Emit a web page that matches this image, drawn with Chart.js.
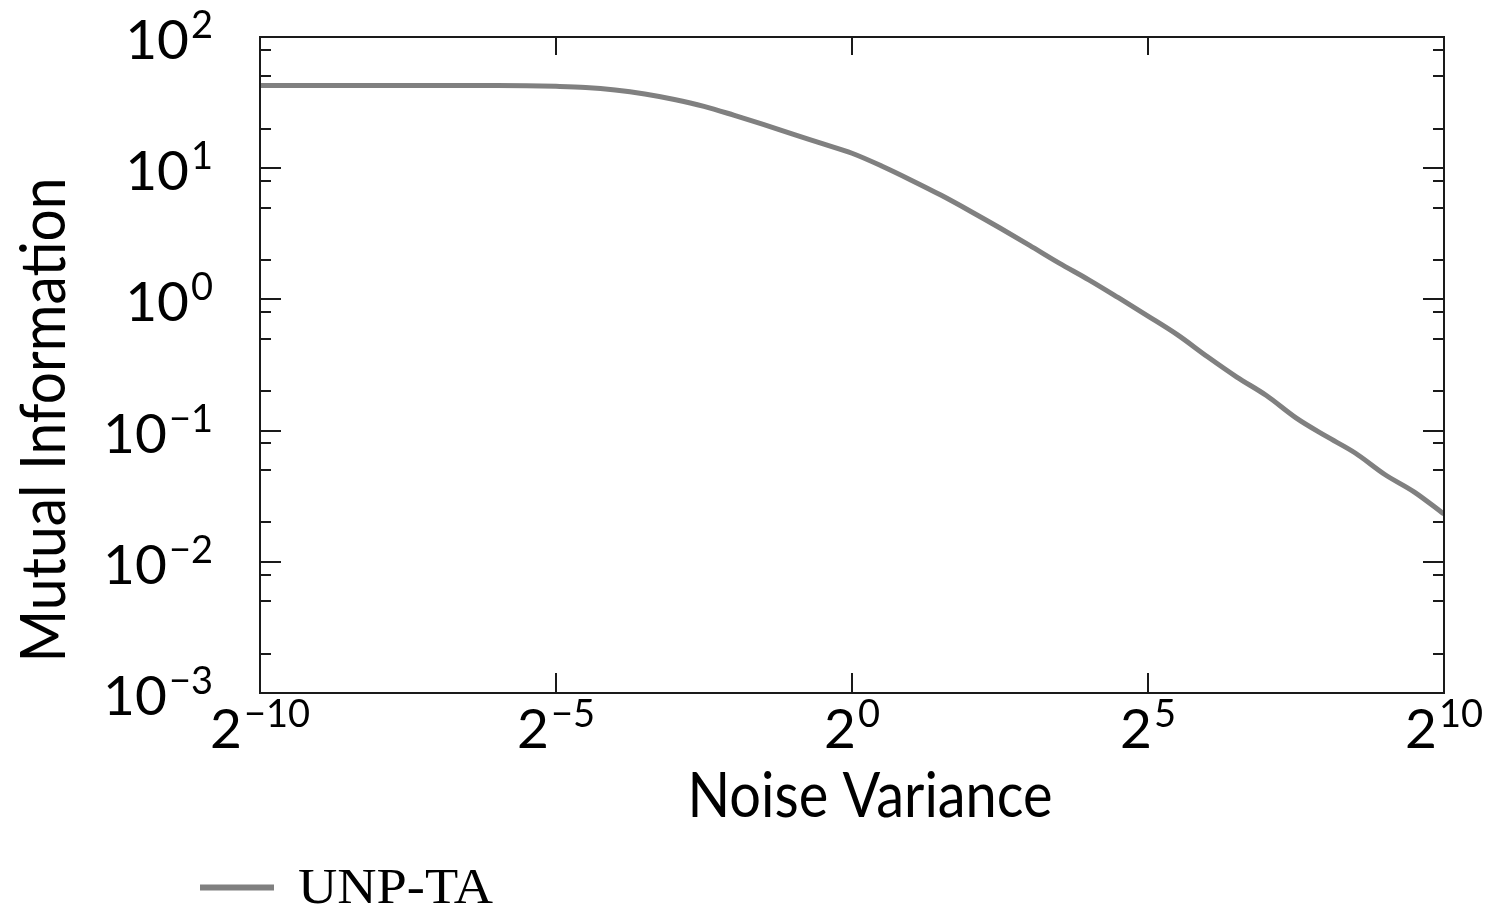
<!DOCTYPE html>
<html>
<head>
<meta charset="utf-8">
<script src="https://cdn.jsdelivr.net/npm/chart.js@4/dist/chart.umd.min.js"></script>
<style>
  html, body { margin: 0; padding: 0; background: #fff; }
</style>
</head>
<body>
<canvas id="miChart" width="1488" height="908"></canvas>
<script>
// data (x = 2^exp)
const varianceExp = [-10, -9.5, -9, -8.5, -8, -7.5, -7, -6.5, -6, -5.5, -5, -4.5, -4, -3.5, -3, -2.5, -2, -1.5, -1, -0.5,
  0, 0.5, 1, 1.5, 2, 2.5, 3, 3.5, 4, 4.5, 5, 5.5, 6, 6.5, 7, 7.5, 8, 8.5, 9, 9.5, 10];
const mutualInfo = [42.6, 42.6, 42.6, 42.6, 42.6, 42.6, 42.6, 42.6, 42.6, 42.5, 42.1, 41.3, 39.5, 36.8, 33.4, 29.6, 25.4, 21.6, 18.2, 15.4,
  13.0, 10.4, 8.11, 6.24, 4.70, 3.50, 2.58, 1.89, 1.41, 1.03, 0.747, 0.537, 0.367, 0.256, 0.185, 0.125, 0.091, 0.0675, 0.0463, 0.0340, 0.0231];
const seriesLabel = "UNP-TA";
const xTickExp = [-10, -5, 0, 5, 10];
const yTickExp = [-3, -2, -1, 0, 1, 2];
const yMinorMult = [2, 5, 8];
const xTitle = "Noise Variance";
const yTitle = "Mutual Information";

const lineColor = "#808080";
const inkColor = "#1a1a1a";
const sansFont = "Lato";

function supText(e) {
  return e < 0 ? "\u2212" + Math.abs(e) : String(e);
}

// base with superscript exponent, anchored right or centred
function drawPower(ctx, base, exp, x, baseline, align) {
  ctx.font = "55px " + sansFont;
  const wb = ctx.measureText(base).width;
  ctx.font = "38px " + sansFont;
  const es = supText(exp);
  const we = ctx.measureText(es).width;
  const gap = 2;
  const total = wb + gap + we;
  const left = align === "right" ? x - total : x - total / 2;
  ctx.textAlign = "left";
  ctx.font = "55px " + sansFont;
  ctx.fillText(base, left, baseline);
  ctx.font = "38px " + sansFont;
  ctx.fillText(es, left + wb + gap, baseline - 21);
}

// text squeezed/stretched to a given width
function drawFitted(ctx, text, font, width) {
  ctx.font = font;
  const w = ctx.measureText(text).width;
  ctx.scale(width / w, 1);
  ctx.textAlign = "left";
  ctx.fillText(text, -w / 2, 0);
}

const frameTicks = {
  id: "frameTicks",
  afterDatasetsDraw(chart) {
    const { ctx, chartArea: a, scales: { x, y } } = chart;
    ctx.save();
    ctx.strokeStyle = inkColor;
    ctx.lineWidth = 2;
    ctx.strokeRect(a.left, a.top, a.right - a.left, a.bottom - a.top);
    ctx.beginPath();
    y.ticks.forEach(t => {
      const py = Math.round(y.getPixelForValue(t.value));
      const len = t.major ? 21 : 11;
      ctx.moveTo(a.left, py); ctx.lineTo(a.left + len, py);
      ctx.moveTo(a.right, py); ctx.lineTo(a.right - len, py);
    });
    x.ticks.forEach(t => {
      const px = Math.round(x.getPixelForValue(t.value));
      ctx.moveTo(px, a.bottom); ctx.lineTo(px, a.bottom - 20);
      ctx.moveTo(px, a.top); ctx.lineTo(px, a.top + 18);
    });
    ctx.stroke();

    // tick labels
    ctx.fillStyle = "#000";
    ctx.textBaseline = "alphabetic";
    y.ticks.filter(t => t.major).forEach(t => {
      const py = y.getPixelForValue(t.value);
      drawPower(ctx, "10", Math.round(Math.log10(t.value)), 213, py + 22, "right");
    });
    x.ticks.forEach(t => {
      const px = x.getPixelForValue(t.value);
      drawPower(ctx, "2", Math.round(Math.log2(t.value)), px, a.bottom + 55, "center");
    });

    // axis titles
    ctx.save();
    ctx.translate(870, 817);
    drawFitted(ctx, xTitle, "61px " + sansFont, 365);
    ctx.restore();
    ctx.save();
    ctx.translate(65, 420);
    ctx.rotate(-Math.PI / 2);
    drawFitted(ctx, yTitle, "61px " + sansFont, 485);
    ctx.restore();

    // legend
    const ds = chart.data.datasets[0];
    ctx.strokeStyle = ds.borderColor;
    ctx.lineWidth = 6;
    ctx.beginPath();
    ctx.moveTo(200, 887.5); ctx.lineTo(274, 887.5);
    ctx.stroke();
    ctx.save();
    ctx.translate(298 + 195 / 2, 903);
    drawFitted(ctx, ds.label, "51px 'Liberation Serif'", 195);
    ctx.restore();
    ctx.restore();
  }
};

new Chart(document.getElementById("miChart"), {
  type: "line",
  data: {
    datasets: [{
      label: seriesLabel,
      data: varianceExp.map((e, i) => ({ x: Math.pow(2, e), y: mutualInfo[i] })),
      borderColor: lineColor,
      backgroundColor: lineColor,
      borderWidth: 5,
      pointRadius: 0,
      cubicInterpolationMode: "monotone",
      fill: false
    }]
  },
  options: {
    responsive: false,
    animation: false,
    devicePixelRatio: 1,
    layout: { padding: { top: 37, right: 44, left: 0, bottom: 0 } },
    plugins: { legend: { display: false }, tooltip: { enabled: false } },
    scales: {
      x: {
        type: "logarithmic",
        min: Math.pow(2, -10),
        max: Math.pow(2, 10),
        ticks: { display: false },
        grid: { display: false },
        border: { display: false },
        afterBuildTicks: s => { s.ticks = xTickExp.map(e => ({ value: Math.pow(2, e), major: true })); },
        afterFit: s => { s.height = 215; }
      },
      y: {
        type: "logarithmic",
        min: 1e-3,
        max: 1e2,
        ticks: { display: false },
        grid: { display: false },
        border: { display: false },
        afterBuildTicks: s => {
          const t = [];
          yTickExp.forEach(k => {
            t.push({ value: Math.pow(10, k), major: true });
            if (k < 2) yMinorMult.forEach(m => t.push({ value: m * Math.pow(10, k), major: false }));
          });
          s.ticks = t;
        },
        afterFit: s => { s.width = 260; }
      }
    }
  },
  plugins: [frameTicks]
});
</script>
</body>
</html>
